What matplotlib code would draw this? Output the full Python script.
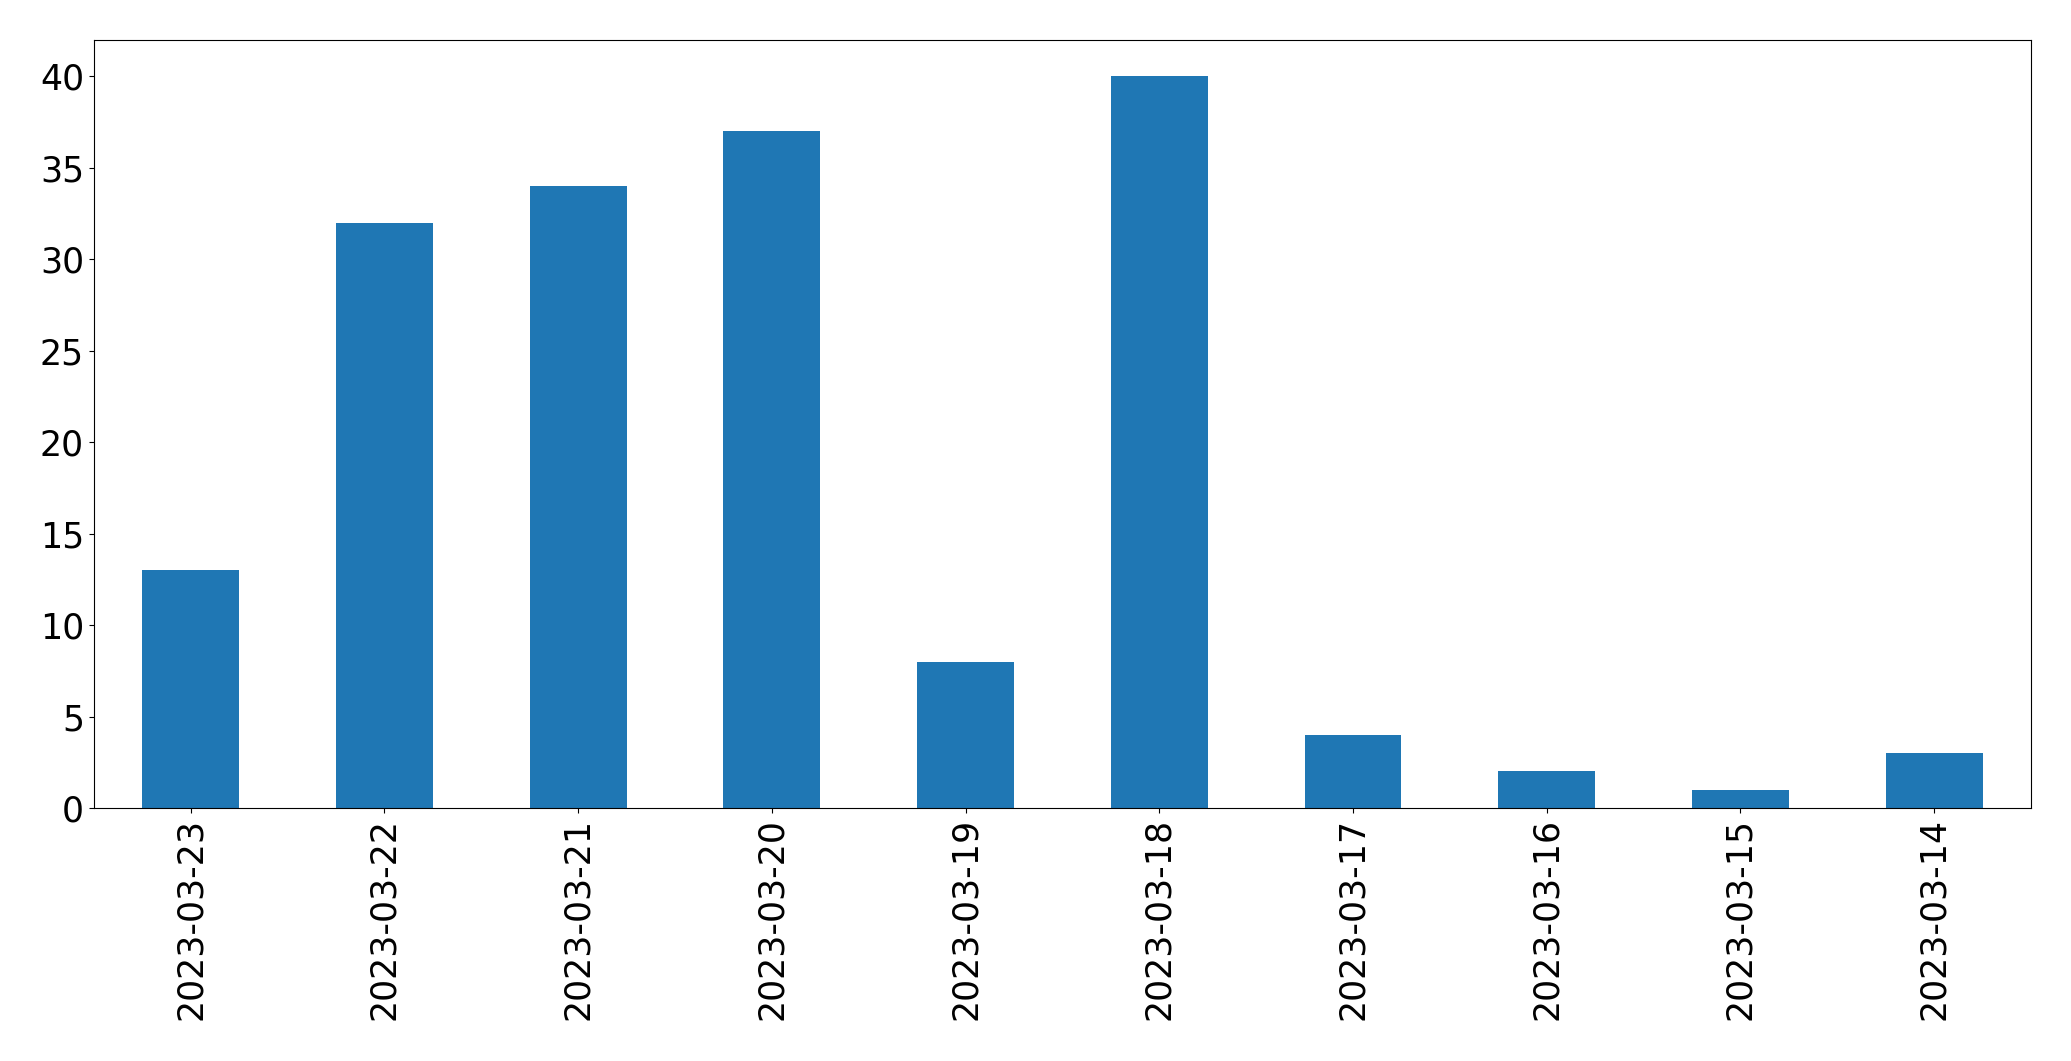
import matplotlib
matplotlib.use("Agg")
import matplotlib.pyplot as plt

dates = ["2023-03-23", "2023-03-22", "2023-03-21", "2023-03-20", "2023-03-19",
         "2023-03-18", "2023-03-17", "2023-03-16", "2023-03-15", "2023-03-14"]
counts = [13, 32, 34, 37, 8, 40, 4, 2, 1, 3]

fig = plt.figure(figsize=(20.71, 10.61), dpi=100)
ax = fig.add_axes([93.8 / 2071, 1 - 808 / 1061, (2031 - 93.8) / 2071, (808 - 39.6) / 1061])
x = range(len(dates))
ax.bar(x, counts, width=0.5, color="#1f77b4")
ax.set_xlim(-0.5, len(dates) - 0.5)
ax.set_ylim(0, 42)
ax.set_xticks(list(x))
ax.set_xticklabels(dates, rotation=90)
ax.tick_params(labelsize=25)
fig.savefig("out.png", dpi=100)
